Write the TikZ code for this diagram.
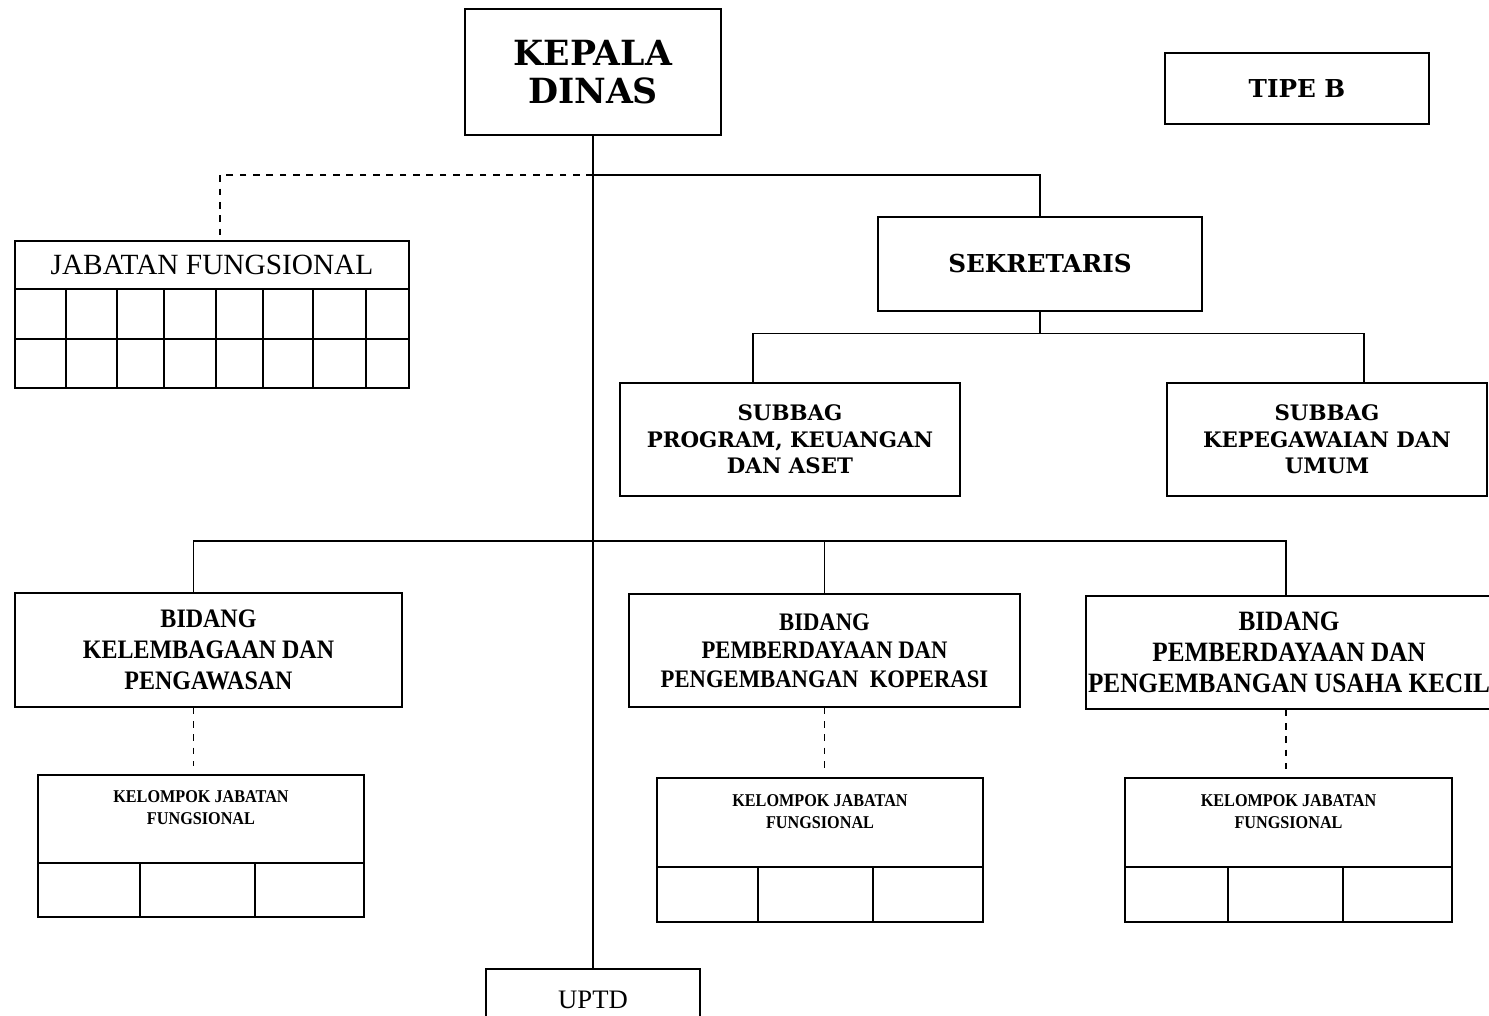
\documentclass[tikz,border=0pt]{standalone}
\usepackage{fontspec}
\setmainfont{Liberation Serif}
\newfontfamily\bookfont{DejaVu Serif}
\newfontfamily\cambfont{Liberation Serif}[FakeStretch=0.9]
\usetikzlibrary{positioning}

\tikzset{
  unit/.style={draw, line width=1.1pt, inner sep=0pt, align=center},
  link/.style={line width=1.1pt},
  dashlink/.style={line width=1.1pt, dash pattern={on 5pt off 5pt}},
  headfont/.style 2 args={font=\bookfont\bfseries\fontsize{#1}{#2}\selectfont},
  bidfont/.style 2 args={font=\cambfont\bfseries\fontsize{#1}{#2}\selectfont},
  kjffont/.style={align=center, font=\cambfont\bfseries\fontsize{13.5}{16}\selectfont},
}

\begin{document}
\begin{tikzpicture}[x=0.75pt,y=0.75pt,yscale=-1,xscale=1]
\useasboundingbox (0,0) rectangle (1489,1016);

%Shape: Rectangle
\node [unit, headfont={26}{28}, minimum width=192pt, minimum height=94.5pt] (kadis) at (593,72) {KEPALA\\DINAS};
%Shape: Rectangle
\node [unit, headfont={18.5}{22}, minimum width=198pt, minimum height=53.25pt] (tipe) at (1297,88.5) {TIPE B};
%Shape: Rectangle
\node [unit, headfont={18.5}{22}, minimum width=243pt, minimum height=70.5pt] (sekr) at (1040,264) {SEKRETARIS};
%Shape: Rectangle
\node [unit, headfont={16}{20}, minimum width=255pt, minimum height=84.75pt] (sub1) at (790,439.5) {SUBBAG\\PROGRAM, KEUANGAN\\DAN ASET};
%Shape: Rectangle
\node [unit, headfont={16}{20}, minimum width=240pt, minimum height=84.75pt] (sub2) at (1327,439.5) {SUBBAG\\KEPEGAWAIAN DAN\\UMUM};

%Shape: Rectangle
\node [unit, font=\fontsize{22}{26}\selectfont, minimum width=295.5pt, minimum height=36pt] (jf) at (212,265) {JABATAN FUNGSIONAL};
%Shape: Grid
\draw [link] (15,289) rectangle (409,388);
\draw [link] (15,339) -- (409,339);
\foreach \x in {66,117,164,216,263,313,366}
  \draw [link] (\x,289) -- (\x,388);

%Shape: Rectangle
\node [unit, bidfont={20}{23.5}, minimum width=290.25pt, minimum height=85.5pt] (bid1) at (208.5,650) {BIDANG\\KELEMBAGAAN DAN\\PENGAWASAN};
%Shape: Rectangle
\node [unit, bidfont={18.9}{21.5}, minimum width=293.25pt, minimum height=84.75pt] (bid2) at (824.5,650.5) {BIDANG\\PEMBERDAYAAN DAN\\PENGEMBANGAN\ \ KOPERASI};
%Shape: Rectangle
\node [unit, bidfont={21}{23.5}, minimum width=304.5pt, minimum height=84.75pt] (bid3) at (1289,652.5) {BIDANG\\PEMBERDAYAAN DAN\\PENGEMBANGAN USAHA KECIL};

%Shape: Rectangle
\node [unit, minimum width=244.5pt, minimum height=66pt] (kjf1) at (201,819) {};
\draw [link] (38,863) rectangle (364,917);
\foreach \x in {140,255}
  \draw [link] (\x,863) -- (\x,917);
% Text Node
\node [kjffont] (kjft1) at (201,807.5) {KELOMPOK JABATAN\\FUNGSIONAL};

%Shape: Rectangle
\node [unit, minimum width=244.5pt, minimum height=66.75pt] (kjf2) at (820,822.5) {};
\draw [link] (657,867) rectangle (983,922);
\foreach \x in {758,873}
  \draw [link] (\x,867) -- (\x,922);
% Text Node
\node [kjffont] (kjft2) at (820,811.5) {KELOMPOK JABATAN\\FUNGSIONAL};

%Shape: Rectangle
\node [unit, minimum width=245.25pt, minimum height=66.75pt] (kjf3) at (1288.5,822.5) {};
\draw [link] (1125,867) rectangle (1452,922);
\foreach \x in {1228,1343}
  \draw [link] (\x,867) -- (\x,922);
% Text Node
\node [kjffont] (kjft3) at (1288.5,811.5) {KELOMPOK JABATAN\\FUNGSIONAL};

%Shape: Rectangle
\node [unit, font=\fontsize{20}{24}\selectfont, minimum width=160.5pt, minimum height=45.75pt] (uptd) at (593,999.5) {UPTD};

%Straight Lines
\coordinate (j1) at (593,175);
\coordinate (j2) at (593,541);
\draw [link] (kadis.south) -- (uptd.north);
\draw [link] (j1) -| (sekr.north);
\draw [dashlink, shorten >=4pt] (j1) -| ([xshift=6pt]jf.north);
\draw [link] (sekr.south) -- ++(0,22) coordinate (j3);
\draw [link] (j3) -| ([xshift=-27.75pt]sub1.north);
\draw [link] (j3) -| ([xshift=27.75pt]sub2.north);
\draw [link] (j2) -| ([xshift=-11.25pt]bid1.north);
\draw [link] (j2) -| (bid2.north);
\draw [link] (j2) -| ([xshift=-2.25pt]bid3.north);

%Straight Lines
\draw [dashlink, shorten >=6pt] ([xshift=-11.25pt]bid1.south) -- ([xshift=-11.25pt]bid1.south |- kjf1.north);
\draw [dashlink, shorten >=6pt] (bid2.south) -- (bid2.south |- kjf2.north);
\draw [dashlink, shorten >=6pt] ([xshift=-2.25pt]bid3.south) -- ([xshift=-2.25pt]bid3.south |- kjf3.north);

\end{tikzpicture}
\end{document}
